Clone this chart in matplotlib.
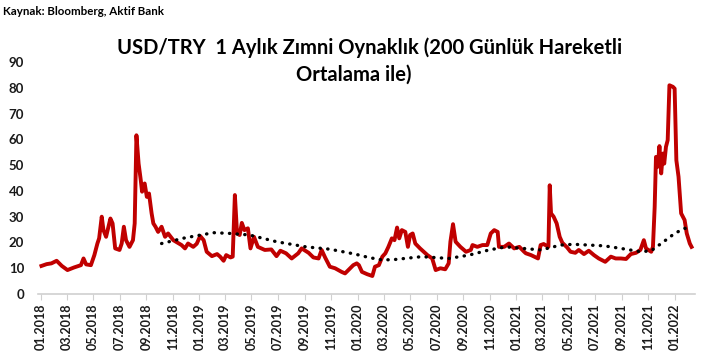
import numpy as np
import pandas as pd
import matplotlib
matplotlib.use("Agg")
import matplotlib.pyplot as plt
import matplotlib.dates as mdates

plt.rcParams['font.family'] = ['Lato', 'DejaVu Sans']

# USD/TRY 1 month implied volatility
vol_dates = [
    "2018-01-02", "2018-01-14", "2018-01-25", "2018-02-06", "2018-02-18", "2018-03-03",
    "2018-03-18", "2018-04-03", "2018-04-09", "2018-04-15", "2018-04-26", "2018-05-04",
    "2018-05-11", "2018-05-15", "2018-05-21", "2018-05-25", "2018-05-31", "2018-06-10",
    "2018-06-15", "2018-06-21", "2018-07-01", "2018-07-06", "2018-07-11", "2018-07-16",
    "2018-07-24", "2018-08-01", "2018-08-05", "2018-08-09", "2018-08-14", "2018-08-19",
    "2018-08-22", "2018-08-28", "2018-09-02", "2018-09-07", "2018-09-13", "2018-09-17",
    "2018-09-22", "2018-09-28", "2018-10-06", "2018-10-14", "2018-10-21", "2018-11-02",
    "2018-11-21", "2018-11-29", "2018-12-06", "2018-12-18", "2018-12-26", "2019-01-03",
    "2019-01-11", "2019-01-18", "2019-01-30", "2019-02-11", "2019-02-18", "2019-02-26",
    "2019-03-04", "2019-03-14", "2019-03-19", "2019-03-24", "2019-03-29", "2019-04-04",
    "2019-04-09", "2019-04-15", "2019-04-23", "2019-04-29", "2019-05-07", "2019-05-16",
    "2019-06-01", "2019-06-16", "2019-06-28", "2019-07-07", "2019-07-20", "2019-08-02",
    "2019-08-17", "2019-08-25", "2019-09-10", "2019-09-21", "2019-10-03", "2019-10-10",
    "2019-10-18", "2019-10-29", "2019-11-10", "2019-11-25", "2019-12-03", "2019-12-15",
    "2019-12-22", "2019-12-30", "2020-01-04", "2020-01-11", "2020-01-23", "2020-02-04",
    "2020-02-10", "2020-02-19", "2020-02-27", "2020-03-05", "2020-03-12", "2020-03-20",
    "2020-03-26", "2020-04-01", "2020-04-06", "2020-04-12", "2020-04-20", "2020-04-26",
    "2020-05-01", "2020-05-07", "2020-05-13", "2020-05-24", "2020-06-10", "2020-06-21",
    "2020-06-29", "2020-07-10", "2020-07-21", "2020-07-29", "2020-08-02", "2020-08-08",
    "2020-08-14", "2020-08-25", "2020-09-07", "2020-09-18", "2020-09-22", "2020-10-03",
    "2020-10-15", "2020-10-26", "2020-11-03", "2020-11-11", "2020-11-19", "2020-11-22",
    "2020-12-04", "2020-12-15", "2020-12-27", "2021-01-08", "2021-01-19", "2021-01-23",
    "2021-02-04", "2021-02-20", "2021-02-26", "2021-03-05", "2021-03-16", "2021-03-19",
    "2021-03-22", "2021-03-28", "2021-04-04", "2021-04-11", "2021-04-17", "2021-04-28",
    "2021-05-06", "2021-05-17", "2021-05-25", "2021-06-06", "2021-06-17", "2021-06-29",
    "2021-07-10", "2021-07-25", "2021-08-07", "2021-08-18", "2021-08-30", "2021-09-11",
    "2021-09-22", "2021-10-04", "2021-10-14", "2021-10-22", "2021-10-27", "2021-11-08",
    "2021-11-12", "2021-11-16", "2021-11-19", "2021-11-23", "2021-11-27", "2021-12-01",
    "2021-12-05", "2021-12-08", "2021-12-12", "2021-12-16", "2021-12-20", "2021-12-28",
    "2022-01-01", "2022-01-05", "2022-01-10", "2022-01-16", "2022-01-24", "2022-01-29",
    "2022-02-05", "2022-02-09",
]
vol_values = [
    10.9, 11.6, 11.9, 12.9, 10.9, 9.3,
    10.3, 11.2, 13.8, 11.5, 11.2, 15.1,
    19.6, 21.6, 30.0, 24.8, 22.2, 29.3,
    27.4, 17.7, 17.1, 19.6, 26.1, 20.9,
    18.3, 20.9, 27.4, 61.6, 50.6, 44.2,
    39.7, 42.9, 37.7, 39.0, 31.3, 27.4,
    26.1, 24.1, 26.1, 22.2, 23.5, 20.9,
    19.0, 17.7, 19.6, 18.3, 19.5, 22.5,
    20.9, 16.4, 14.7, 15.5, 14.5, 12.9,
    15.1, 14.2, 14.5, 38.4, 23.5, 22.9,
    27.6, 24.8, 25.5, 17.7, 22.2, 18.3,
    17.1, 17.3, 14.7, 16.8, 15.8, 13.8,
    15.8, 17.7, 16.0, 14.2, 13.8, 17.1,
    14.2, 10.6, 10.0, 8.6, 8.0, 10.0,
    11.2, 11.9, 11.2, 8.6, 7.7, 7.0,
    10.6, 11.2, 14.5, 15.8, 18.3, 21.6,
    20.9, 25.8, 21.6, 24.8, 24.1, 18.3,
    22.9, 23.5, 19.6, 17.7, 15.1, 13.8,
    9.3, 10.0, 9.6, 11.9, 20.3, 27.1,
    20.3, 18.3, 16.4, 17.1, 19.0, 18.3,
    19.0, 19.0, 23.5, 24.8, 24.1, 18.3,
    18.3, 19.6, 17.7, 18.3, 16.4, 15.8,
    15.1, 13.8, 19.0, 19.4, 18.3, 42.2,
    31.3, 30.0, 27.4, 22.2, 19.9, 18.1,
    16.4, 16.0, 17.1, 15.5, 16.8, 15.1,
    13.8, 12.5, 14.5, 13.8, 13.8, 13.6,
    15.5, 16.0, 17.1, 20.9, 17.7, 16.4,
    18.3, 33.8, 53.2, 49.4, 57.4, 46.8,
    54.5, 50.6, 57.1, 59.7, 81.0, 80.4,
    79.7, 51.9, 45.5, 31.3, 28.7, 23.5,
    19.6, 18.3,
]

# 200 day moving average
ma_dates = [
    "2018-10-06", "2018-11-29", "2019-02-03", "2019-03-15", "2019-04-27", "2019-06-28",
    "2019-09-04", "2019-10-29", "2019-12-26", "2020-01-26", "2020-02-27", "2020-03-27",
    "2020-05-28", "2020-07-29", "2020-09-14", "2020-10-30", "2020-12-08", "2021-01-16",
    "2021-02-27", "2021-04-13", "2021-05-13", "2021-07-22", "2021-08-30", "2021-10-15",
    "2021-11-08", "2021-12-01", "2022-01-01", "2022-01-24", "2022-02-09",
]
ma_values = [
    19.6, 21.8, 23.8, 23.5, 22.9, 20.3,
    18.3, 17.4, 15.5, 14.2, 13.2, 13.4,
    14.5, 13.8, 15.1, 17.1, 18.3, 17.7,
    17.1, 19.0, 19.3, 18.7, 17.7, 16.4,
    16.8, 19.6, 23.5, 25.5, 25.1,
]

vol_dates = pd.to_datetime(vol_dates)
ma_dates = pd.to_datetime(ma_dates)

fig = plt.figure(figsize=(7.1, 3.63), dpi=100)
ax = fig.add_axes([0.0535, 0.19, 0.926, 0.639])

ax.plot(vol_dates, vol_values, color='#C00000', linewidth=2.8, solid_joinstyle='round')
ax.plot(ma_dates, ma_values, color='black', linewidth=2.4,
        linestyle=(0, (0.1, 2.2)), dash_capstyle='round')

ax.set_ylim(0, 90)
ax.set_yticks(np.arange(0, 91, 10))
ax.set_xlim(pd.Timestamp("2017-12-25"), pd.Timestamp("2022-02-18"))
ax.xaxis.set_major_locator(mdates.MonthLocator(bymonth=[1, 3, 5, 7, 9, 11]))
ax.xaxis.set_major_formatter(mdates.DateFormatter('%m.%Y'))

for s in ['top', 'right', 'left']:
    ax.spines[s].set_visible(False)
ax.spines['bottom'].set_color('#d0d0d0')
ax.spines['bottom'].set_linewidth(1.2)
ax.tick_params(axis='y', length=0, labelsize=9.5, pad=10)
ax.tick_params(axis='x', length=4, color='#d0d0d0', labelsize=9, rotation=90, pad=3)
for lbl in ax.get_xticklabels() + ax.get_yticklabels():
    lbl.set_fontweight('bold')
    lbl.set_color('#1a1a1a')

fig.text(0.52, 0.868, "USD/TRY  1 Aylık Zımni Oynaklık (200 Günlük Hareketli",
         ha='center', va='center', fontsize=14.5, fontweight='bold')
fig.text(0.498, 0.795, "Ortalama ile)", ha='center', va='center',
         fontsize=14.5, fontweight='bold')
fig.text(0.004, 0.967, "Kaynak: Bloomberg, Aktif Bank", ha='left', va='center',
         fontsize=8.3, fontweight='bold')

fig.savefig("out.png", dpi=100)
